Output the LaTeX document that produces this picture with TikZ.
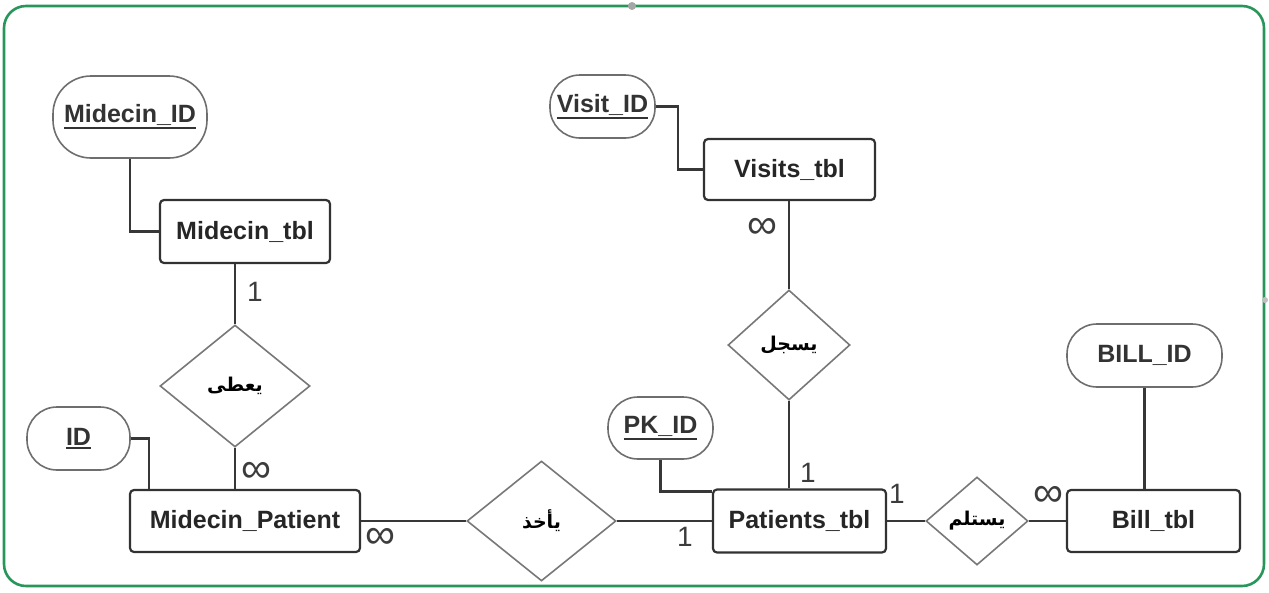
\documentclass[tikz,border=0pt]{standalone}
\usepackage{fontspec}
\setmainfont{Liberation Sans}
\newfontfamily\arabicfont[Script=Arabic]{DejaVu Sans}
\TeXXeTstate=1
\usetikzlibrary{shapes.geometric}
\definecolor{frame}{RGB}{40,150,90}
\definecolor{boxline}{RGB}{50,50,50}
\definecolor{pillline}{RGB}{110,110,110}
\definecolor{diamline}{RGB}{120,120,120}
\definecolor{linkc}{RGB}{55,55,55}
\definecolor{labc}{RGB}{60,60,60}
\newcommand\keyul[1]{\vtop{\hbox{#1}\kern1.5pt\hrule height 2.2pt}}
\tikzset{
  entity/.style={draw=boxline, line width=2.2pt, rounded corners=4pt, fill=white,
    inner sep=0pt, font=\fontsize{25}{30}\selectfont\bfseries, text=black!85},
  attr/.style={draw=pillline, line width=1.6pt, rounded corners=30pt, fill=white,
    inner sep=0pt, font=\fontsize{25}{30}\selectfont\bfseries, text=black!80},
  rel/.style={diamond, draw=diamline, line width=1.6pt, fill=white, inner sep=0pt,
    font=\fontsize{19}{22}\selectfont\arabicfont\bfseries},
  link/.style={draw=linkc, line width=2.2pt},
  card/.style={text=labc, inner sep=0pt, font=\fontsize{28}{30}\selectfont},
  cardinf/.style={text=labc, inner sep=0pt, font=\fontsize{42}{44}\selectfont}
}
\begin{document}
\begin{tikzpicture}[x=1pt,y=-1pt]
\useasboundingbox (0,0) rectangle (1269,592);
\draw[frame, line width=2.6pt, rounded corners=22pt] (4,6) rectangle (1264,586);
\fill[gray!70] (632,6) circle (4pt);
\fill[gray!50] (1265,300) circle (3pt);

% entities
\node[entity, minimum width=170pt, minimum height=63pt] (mtbl) at (245,231.5) {Midecin\_tbl};
\node[entity, minimum width=230pt, minimum height=62pt] (mp) at (245,521) {Midecin\_Patient};
\node[entity, minimum width=173pt, minimum height=63pt] (pt) at (799.5,521) {Patients\_tbl};
\node[entity, minimum width=171pt, minimum height=61pt] (vt) at (789.5,169.5) {Visits\_tbl};
\node[entity, minimum width=173pt, minimum height=62pt] (bt) at (1153.5,521) {Bill\_tbl};

% attributes
\node[attr, minimum width=154pt, minimum height=82pt, rounded corners=38pt] (mid) at (130,117) {\keyul{Midecin\_ID}};
\node[attr, minimum width=103pt, minimum height=63pt] (idn) at (78.5,438.5) {\keyul{ID}};
\node[attr, minimum width=105pt, minimum height=62pt] (pk) at (660.5,428) {\keyul{PK\_ID}};
\node[attr, minimum width=105pt, minimum height=63pt] (vid) at (602.5,106.5) {\keyul{Visit\_ID}};
\node[attr, minimum width=155pt, minimum height=63pt] (bid) at (1144.5,355.5) {BILL\_ID};

% relationships
\node[rel, minimum width=150pt, minimum height=122pt] (d1) at (235,386) {\beginR يعطى\endR};
\node[rel, minimum width=149pt, minimum height=120pt] (d2) at (541.5,521) {\beginR يأخذ\endR};
\node[rel, minimum width=122pt, minimum height=110pt] (d3) at (789,345) {\beginR يسجل\endR};
\node[rel, minimum width=102pt, minimum height=88pt] (d4) at (977,521) {\beginR يستلم\endR};

% connectors
\draw[link] (mid.south) |- (mtbl.west);
\draw[link] (idn.east) -| ([xshift=20pt]mp.north west);
\draw[link] (pk.south) |- ([yshift=-3pt]pt.north west);
\draw[link] (vid.east) -- ++(22,0) |- (vt.west);
\draw[link] (bid.south) -- (bid.south |- bt.north);
\draw[link] (d1.north) -- (d1.north |- mtbl.south);
\draw[link] (d1.south) -- (d1.south |- mp.north);
\draw[link] (d3.north) -- (d3.north |- vt.south);
\draw[link] (d3.south) -- (d3.south |- pt.north);
\draw[link] (mp.east) -- (d2.west);
\draw[link] (d2.east) -- (pt.west);
\draw[link] (pt.east) -- (d4.west);
\draw[link] (d4.east) -- (bt.west);

% cardinalities
\node[card] (c1) at (255,292) {1};
\node[cardinf] (c2) at (256,472) {∞};
\node[cardinf] (c3) at (380,538) {∞};
\node[card] (c4) at (685,537) {1};
\node[card] (c5) at (808,473) {1};
\node[card] (c6) at (897,494) {1};
\node[cardinf] (c7) at (762,228) {∞};
\node[cardinf] (c8) at (1048,496) {∞};
\end{tikzpicture}
\end{document}
